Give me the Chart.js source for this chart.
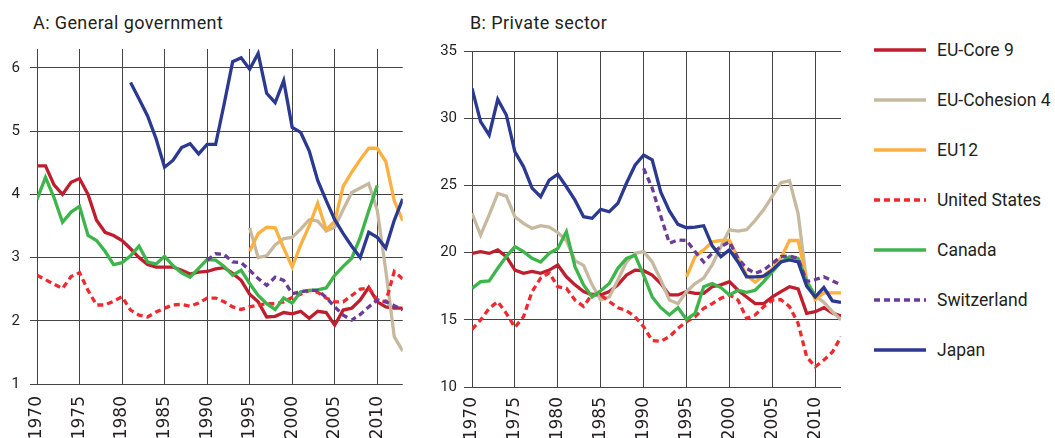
<!DOCTYPE html>
<html>
<head>
<meta charset="utf-8">
<script src="https://cdn.jsdelivr.net/npm/chart.js@4.4.1/dist/chart.umd.min.js"></script>
<style>
  body { margin: 0; background: #fff; width: 1055px; height: 438px; overflow: hidden; position: relative;
         font-family: Roboto, 'Open Sans', sans-serif; color: #231f20; }
  .box { position: absolute; top: 0; height: 438px; }
  .title { position: absolute; top: 12px; font-size: 18px; letter-spacing: 0.4px; line-height: 22px; white-space: nowrap; }
  #legend { position: absolute; left: 872px; top: 0; }
  .item { position: absolute; left: 0; height: 20px; white-space: nowrap; font-size: 17.5px; line-height: 20px; }
  .item svg { position: absolute; left: 0; top: 8px; }
  .item span { position: absolute; left: 65px; top: 0; }
</style>
</head>
<body>
<div class="title" style="left:33px">A: General government</div>
<div class="title" style="left:470px">B: Private sector</div>
<div class="box" style="left:0;width:410px"><canvas id="chartA" width="410" height="438"></canvas></div>
<div class="box" style="left:432px;width:414px"><canvas id="chartB" width="414" height="438"></canvas></div>
<div id="legend"></div>
<script>
/* ---------- data ---------- */
const years = [1970, 1971, 1972, 1973, 1974, 1975, 1976, 1977, 1978, 1979,
               1980, 1981, 1982, 1983, 1984, 1985, 1986, 1987, 1988, 1989,
               1990, 1991, 1992, 1993, 1994, 1995, 1996, 1997, 1998, 1999,
               2000, 2001, 2002, 2003, 2004, 2005, 2006, 2007, 2008, 2009,
               2010, 2011, 2012, 2013];

const names = ['EU-Core 9', 'EU-Cohesion 4', 'EU12', 'United States', 'Canada', 'Switzerland', 'Japan'];

// A: General government
const coreA = [4.45, 4.45, 4.15, 4.0, 4.19, 4.25, 4.0, 3.59, 3.4, 3.35,
               3.27, 3.14, 3.0, 2.89, 2.85, 2.85, 2.85, 2.8, 2.74, 2.77,
               2.78, 2.82, 2.84, 2.75, 2.64, 2.42, 2.3, 2.06, 2.07, 2.13,
               2.11, 2.15, 2.04, 2.15, 2.13, 1.93, 2.17, 2.2, 2.33, 2.53,
               2.3, 2.22, 2.2, 2.2];
const cohesionA = [null, null, null, null, null, null, null, null, null, null,
                   null, null, null, null, null, null, null, null, null, null,
                   null, null, null, null, null, 3.47, 3.0, 3.03, 3.2, 3.3,
                   3.32, 3.45, 3.6, 3.58, 3.42, 3.48, 3.76, 4.03, 4.1, 4.17,
                   3.75, 2.8, 1.75, 1.52];
const eu12A = [null, null, null, null, null, null, null, null, null, null,
               null, null, null, null, null, null, null, null, null, null,
               null, null, null, null, null, 3.1, 3.38, 3.48, 3.47, 3.15,
               2.85, 3.2, 3.5, 3.86, 3.44, 3.57, 4.13, 4.35, 4.55, 4.73,
               4.73, 4.52, 3.9, 3.58];
const usA = [2.72, 2.65, 2.58, 2.51, 2.7, 2.76, 2.48, 2.25, 2.25, 2.31,
             2.38, 2.17, 2.09, 2.06, 2.14, 2.2, 2.25, 2.26, 2.23, 2.28,
             2.36, 2.36, 2.3, 2.22, 2.18, 2.22, 2.25, 2.27, 2.27, 2.3,
             2.37, 2.42, 2.48, 2.45, 2.36, 2.3, 2.3, 2.4, 2.5, 2.52,
             2.33, 2.3, 2.78, 2.66];
const canadaA = [3.92, 4.27, 3.95, 3.56, 3.72, 3.81, 3.35, 3.27, 3.1, 2.89,
                 2.92, 3.03, 3.18, 2.93, 2.9, 3.02, 2.87, 2.76, 2.69, 2.83,
                 2.97, 2.96, 2.86, 2.72, 2.8, 2.59, 2.4, 2.27, 2.18, 2.36,
                 2.28, 2.46, 2.48, 2.49, 2.52, 2.72, 2.86, 2.99, 3.32, 3.74,
                 4.14, null, null, null];
const swissA = [null, null, null, null, null, null, null, null, null, null,
                null, null, null, null, null, null, null, null, null, null,
                2.96, 3.06, 3.05, 2.93, 2.92, 2.8, 2.67, 2.56, 2.69, 2.64,
                2.43, 2.46, 2.48, 2.48, 2.37, 2.22, 2.09, 2.01, 2.1, 2.22,
                2.33, 2.3, 2.24, 2.17];
const japanA = [null, null, null, null, null, null, null, null, null, null,
                null, 5.77, 5.51, 5.24, 4.88, 4.43, 4.54, 4.74, 4.8, 4.64,
                4.79, 4.79, 5.43, 6.1, 6.16, 5.98, 6.23, 5.6, 5.45, 5.8,
                5.06, 4.98, 4.69, 4.22, 3.9, 3.6, 3.38, 3.18, 3.0, 3.4,
                3.32, 3.15, 3.59, 3.93];

// B: Private sector
const coreB = [19.94, 20.07, 19.94, 20.2, 19.7, 18.7, 18.46, 18.6, 18.46, 18.7,
               19.08, 18.2, 17.6, 17.1, 16.85, 16.85, 17.1, 17.6, 18.33, 18.7,
               18.65, 18.33, 17.7, 16.85, 16.85, 17.1, 16.97, 16.97, 17.46, 17.6,
               17.84, 17.2, 16.7, 16.2, 16.2, 16.7, 17.1, 17.46, 17.3, 15.48,
               15.6, 15.9, 15.5, 15.28];
const cohesionB = [22.92, 21.3, 22.8, 24.4, 24.2, 22.67, 22.18, 21.8, 22.0, 21.9,
                   21.5, 20.9, 19.4, 19.05, 17.6, 16.47, 16.7, 17.96, 19.3, 19.95,
                   20.07, 19.3, 17.96, 16.47, 16.2, 17.1, 17.7, 18.1, 19.1, 20.44,
                   21.7, 21.6, 21.7, 22.4, 23.2, 24.2, 25.2, 25.35, 22.9, 17.8,
                   16.8, 16.3, 15.6, 15.0];
const eu12B = [null, null, null, null, null, null, null, null, null, null,
               null, null, null, null, null, null, null, null, null, null,
               null, null, null, null, null, 18.2, 19.7, 20.2, 20.8, 20.9,
               20.9, 19.6, 18.3, 17.8, 18.3, 18.8, 19.6, 20.9, 20.9, 18.0,
               16.5, 17.0, 17.0, 17.0];
const usB = [14.29, 14.98, 15.85, 16.35, 15.48, 14.44, 15.23, 17.1, 18.1, 18.5,
             17.46, 17.34, 16.47, 16.0, 16.9, 16.85, 16.35, 15.9, 15.68, 15.23,
             14.49, 13.45, 13.4, 13.74, 14.36, 14.86, 15.23, 15.85, 16.2, 16.6,
             16.85, 16.47, 15.1, 15.36, 15.98, 16.47, 16.5, 15.98, 14.74, 12.25,
             11.5, 12.0, 12.6, 13.74];
const canadaB = [17.34, 17.84, 17.9, 18.83, 19.7, 20.44, 20.07, 19.57, 19.3, 19.95,
                 20.3, 21.56, 18.95, 17.6, 16.7, 17.16, 17.7, 18.83, 19.57, 19.8,
                 18.33, 16.7, 15.9, 15.36, 15.9, 15.03, 15.48, 17.46, 17.7, 17.4,
                 16.85, 17.2, 17.05, 17.2, 17.84, 18.58, 19.3, 19.7, 19.57, 17.84,
                 16.8, null, null, null];
const swissB = [null, null, null, null, null, null, null, null, null, null,
                null, null, null, null, null, null, null, null, null, null,
                26.27, 24.8, 22.7, 20.7, 20.94, 20.9, 20.07, 19.3, 19.95, 20.44,
                20.8, 19.57, 18.83, 18.46, 18.7, 19.2, 19.7, 19.75, 19.57, 17.84,
                18.0, 18.2, 17.9, 17.6];
const japanB = [32.22, 29.74, 28.75, 31.4, 30.24, 27.5, 26.4, 24.8, 24.16, 25.4,
                25.83, 24.9, 23.9, 22.67, 22.55, 23.22, 23.04, 23.67, 25.16, 26.5,
                27.26, 26.9, 24.5, 23.1, 22.1, 21.85, 21.9, 22.0, 20.5, 19.7,
                20.2, 19.3, 18.2, 18.2, 18.25, 18.7, 19.3, 19.45, 19.3, 17.5,
                16.7, 17.4, 16.4, 16.3];

/* ---------- style ---------- */
const colors = ['#be1e2d', '#c7b99f', '#fbb040', '#ee2a2f', '#3db54a', '#6a3c97', '#2b3990'];
const dashes = [[], [], [], [6, 4], [], [6, 4], []];
const GRID = '#444444';
const TEXT = '#231f20';

function buildDatasets(seriesList) {
  return seriesList.map((vals, i) => ({
    label: names[i],
    data: years.map((yr, j) => ({ x: yr, y: vals[j] })).filter(p => p.y !== null),
    borderColor: colors[i],
    borderWidth: 3.3,
    borderDash: dashes[i],
    pointRadius: 0,
    tension: 0,
    fill: false,
    order: names.length - i
  }));
}

function makeChart(id, seriesList, yMin, yMax, yStep, axisW, tickLen, tickPad, padTop, xH, xPad) {
  return new Chart(document.getElementById(id), {
    type: 'line',
    data: { datasets: buildDatasets(seriesList) },
    options: {
      responsive: false,
      animation: false,
      devicePixelRatio: 1,
      layout: { padding: { top: padTop, right: 5, left: 0, bottom: 0 } },
      plugins: { legend: { display: false }, tooltip: { enabled: false } },
      scales: {
        x: {
          type: 'linear', min: 1970, max: 2013,
          border: { display: false },
          grid: { color: GRID, lineWidth: 1, drawTicks: false },
          ticks: {
            stepSize: 5, includeBounds: false, autoSkip: false,
            minRotation: 90, maxRotation: 90, padding: xPad,
            color: TEXT, font: { family: 'DejaVu Sans', size: 17 },
            callback: v => String(v)
          },
          afterFit: s => { s.height = xH; }
        },
        y: {
          min: yMin, max: yMax,
          border: { display: false },
          grid: { color: GRID, lineWidth: 1, tickLength: tickLen },
          ticks: {
            stepSize: yStep, includeBounds: false, padding: tickPad,
            color: TEXT, font: { family: 'Roboto', size: 15 }
          },
          afterFit: s => { s.width = axisW; }
        }
      }
    }
  });
}

makeChart('chartA', [coreA, cohesionA, eu12A, usA, canadaA, swissA, japanA], 1, 6.3, 1, 37, 7, 10, 49, 54, 12);
makeChart('chartB', [coreB, cohesionB, eu12B, usB, canadaB, swissB, japanB], 10, 35, 5, 40, 8, 7, 51, 51, 10);

/* ---------- legend ---------- */
const legend = document.getElementById('legend');
names.forEach((n, i) => {
  const row = document.createElement('div');
  row.className = 'item';
  row.style.top = (40 + i * 50) + 'px';
  const dash = dashes[i].length ? ` stroke-dasharray="${dashes[i].join(' ')}"` : '';
  row.innerHTML = `<svg width="54" height="4"><line x1="2" y1="2" x2="54" y2="2" stroke="${colors[i]}" stroke-width="3.5"${dash}/></svg><span>${n}</span>`;
  legend.appendChild(row);
});
</script>
</body>
</html>
